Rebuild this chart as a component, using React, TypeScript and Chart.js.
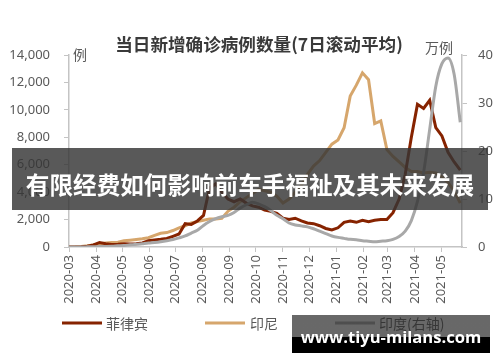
import React, { useEffect, useRef } from "react";
import { Chart, registerables } from "chart.js";

Chart.register(...registerables);

// ---- data ----
const sampleDates = [
  "2020-03-01", "2020-03-08", "2020-03-15", "2020-03-22", "2020-03-29",
  "2020-04-05", "2020-04-12", "2020-04-19", "2020-04-26", "2020-05-03",
  "2020-05-10", "2020-05-17", "2020-05-24", "2020-05-31", "2020-06-07",
  "2020-06-14", "2020-06-21", "2020-06-28", "2020-07-05", "2020-07-12",
  "2020-07-19", "2020-07-26", "2020-08-02", "2020-08-09", "2020-08-16",
  "2020-08-23", "2020-08-30", "2020-09-06", "2020-09-13", "2020-09-20",
  "2020-09-27", "2020-10-04", "2020-10-11", "2020-10-18", "2020-10-25",
  "2020-11-01", "2020-11-08", "2020-11-15", "2020-11-22", "2020-11-29",
  "2020-12-06", "2020-12-13", "2020-12-20", "2020-12-27", "2021-01-03",
  "2021-01-10", "2021-01-17", "2021-01-24", "2021-01-31", "2021-02-07",
  "2021-02-14", "2021-02-21", "2021-02-28", "2021-03-07", "2021-03-14",
  "2021-03-21", "2021-03-28", "2021-04-04", "2021-04-11", "2021-04-18",
  "2021-04-25", "2021-05-02", "2021-05-09", "2021-05-16", "2021-05-23",
];

// 菲律宾 (例)
const philippines = [
  0, 5, 20, 50, 150,
  330, 240, 180, 200, 230,
  220, 230, 300, 450, 520,
  560, 620, 780, 950, 1700,
  1650, 1900, 2300, 4300, 4600,
  4000, 3500, 3300, 3500, 3200,
  3000, 2900, 2700, 2600, 2450,
  2100, 2000, 2100, 1900, 1750,
  1700, 1550, 1350, 1250, 1400,
  1800, 1900, 1800, 1950, 1850,
  1950, 2000, 2000, 2500, 3500,
  5300, 8000, 10400, 10100, 10700,
  8700, 8100, 6900, 6200, 5600,
];

// 印尼 (例)
const indonesia = [
  0, 10, 40, 90, 150,
  230, 300, 330, 350, 450,
  500, 550, 600, 680, 850,
  1000, 1050, 1200, 1400, 1550,
  1750, 1850, 1950, 2050, 2050,
  2100, 2600, 2900, 3300, 3600,
  3900, 4200, 4100, 4000, 3700,
  3200, 3500, 4000, 4500, 5300,
  5900, 6300, 6900, 7500, 7800,
  8700, 11000, 11800, 12700, 12200,
  9000, 9200, 7100, 6600, 6200,
  5800, 5500, 5500, 5400, 5450,
  5400, 5100, 4700, 4100, 3200,
];

// 印度 (万例, 右轴)
const india = [
  0, 0.01, 0.01, 0.03, 0.06,
  0.08, 0.12, 0.17, 0.25, 0.32,
  0.45, 0.55, 0.7, 0.85, 0.95,
  1.1, 1.3, 1.55, 1.9, 2.3,
  2.9, 3.5, 4.5, 5.3, 5.9,
  6.3, 6.6, 7.2, 8.1, 8.8,
  9.3, 9.0, 8.4, 7.6, 6.6,
  5.9, 5.0, 4.6, 4.4, 4.2,
  3.8, 3.3, 2.8, 2.3, 2.0,
  1.8, 1.6, 1.5, 1.3, 1.2,
  1.1, 1.2, 1.3, 1.6, 2.2,
  3.3, 5.5, 9.5, 15.5, 24.5,
  33.5, 38.2, 39.4, 36, 26,
];

const monthLabels = [
  "2020-03", "2020-04", "2020-05", "2020-06", "2020-07", "2020-08", "2020-09",
  "2020-10", "2020-11", "2020-12", "2021-01", "2021-02", "2021-03", "2021-04",
  "2021-05",
];
const leftTicks = [0, 2000, 4000, 6000, 8000, 10000, 12000, 14000];
const rightTicks = [0, 10, 20, 30, 40];

const seriesNames = ["菲律宾", "印尼", "印度(右轴)"];
const seriesColors = ["#862300", "#d6a66c", "#a8a8a8"];
const titleText = "当日新增确诊病例数量(7日滚动平均)";
const leftUnit = "例";
const rightUnit = "万例";
const bannerText = "有限经费如何影响前车手福祉及其未来发展";
const watermarkText = "www.tiyu-milans.com";

const ORIGIN = Date.UTC(2020, 2, 1);
const dayOf = (s: string) => (Date.parse(s) - ORIGIN) / 86400000;
const X_MAX = dayOf("2021-05-25");

const AXIS_COLOR = "#c4c4c4";
const TEXT_COLOR = "#595959";
const TICK_FONT = { family: '"Noto Sans", sans-serif', size: 13 };

const decorPlugin = {
  id: "decor",
  afterDraw(chart: any) {
    const ctx = chart.ctx;
    const a = chart.chartArea;
    ctx.save();
    ctx.fillStyle = "#3a3a3a";
    ctx.font = 'bold 17.6px "Noto Sans CJK SC"';
    ctx.textAlign = "center";
    ctx.textBaseline = "middle";
    ctx.fillText(titleText, 259, 44);

    ctx.fillStyle = TEXT_COLOR;
    ctx.font = '14px "Noto Sans CJK SC"';
    ctx.textAlign = "left";
    ctx.fillText(leftUnit, a.left + 4, a.top);
    ctx.textAlign = "right";
    ctx.fillText(rightUnit, a.right - 9, a.top - 7);

    const legendPos = [
      [62, 106],
      [205, 250],
      [335, 379],
    ];
    chart.data.datasets.forEach((ds: any, i: number) => {
      const [lx, tx] = legendPos[i];
      ctx.strokeStyle = ds.borderColor;
      ctx.lineWidth = 3;
      ctx.beginPath();
      ctx.moveTo(lx, 323);
      ctx.lineTo(lx + 40, 323);
      ctx.stroke();
      ctx.fillStyle = TEXT_COLOR;
      ctx.textAlign = "left";
      ctx.fillText(ds.label, tx, 324);
    });
    ctx.restore();
  },
};

function ChartCanvas() {
  const ref = useRef<HTMLCanvasElement | null>(null);
  useEffect(() => {
    if (!ref.current) return;
    const xs = sampleDates.map(dayOf);
    const mk = (vals: number[]) => vals.map((v, i) => ({ x: xs[i], y: v }));
    const chart = new Chart(ref.current, {
      type: "line",
      data: {
        datasets: [
          {
            label: seriesNames[0],
            data: mk(philippines),
            borderColor: seriesColors[0],
            borderWidth: 3,
            pointRadius: 0,
            tension: 0,
            yAxisID: "y",
            order: 1,
          },
          {
            label: seriesNames[1],
            data: mk(indonesia),
            borderColor: seriesColors[1],
            borderWidth: 3,
            pointRadius: 0,
            tension: 0,
            yAxisID: "y",
            order: 2,
          },
          {
            label: seriesNames[2],
            data: mk(india),
            borderColor: seriesColors[2],
            borderWidth: 3,
            pointRadius: 0,
            cubicInterpolationMode: "monotone",
            yAxisID: "y1",
            order: 0,
          },
        ],
      },
      options: {
        animation: false,
        responsive: false,
        maintainAspectRatio: false,
        layout: { padding: { top: 55, bottom: 45, left: 0, right: 0 } },
        plugins: {
          legend: { display: false },
          title: { display: false },
          tooltip: { enabled: false },
        },
        scales: {
          x: {
            type: "linear",
            min: 0,
            max: X_MAX,
            afterBuildTicks: (s: any) => {
              s.ticks = monthLabels.map((m) => ({ value: dayOf(m + "-01") }));
            },
            afterFit: (s: any) => {
              s.height = 70;
            },
            ticks: {
              autoSkip: false,
              minRotation: 90,
              maxRotation: 90,
              padding: 3,
              color: TEXT_COLOR,
              font: TICK_FONT,
              callback: (_v: any, i: number) => monthLabels[i],
            },
            grid: { drawOnChartArea: false, tickLength: 5, color: AXIS_COLOR },
            border: { color: AXIS_COLOR, width: 1.5 },
          },
          y: {
            position: "left",
            min: 0,
            max: 14000,
            afterBuildTicks: (s: any) => {
              s.ticks = leftTicks.map((v) => ({ value: v }));
            },
            afterFit: (s: any) => {
              s.width = 69;
            },
            ticks: {
              padding: 14,
              color: TEXT_COLOR,
              font: TICK_FONT,
              callback: (v: any) => Number(v).toLocaleString("en-US"),
            },
            grid: { drawOnChartArea: false, tickLength: 5, color: AXIS_COLOR },
            border: { color: AXIS_COLOR, width: 1.5 },
          },
          y1: {
            position: "right",
            min: 0,
            max: 40,
            afterBuildTicks: (s: any) => {
              s.ticks = rightTicks.map((v) => ({ value: v }));
            },
            afterFit: (s: any) => {
              s.width = 38;
            },
            ticks: {
              padding: 11,
              color: TEXT_COLOR,
              font: TICK_FONT,
              callback: (v: any) => String(v),
            },
            grid: { drawOnChartArea: false, tickLength: 5, color: AXIS_COLOR },
            border: { color: AXIS_COLOR, width: 1.5 },
          },
        },
      } as any,
      plugins: [decorPlugin],
    });
    return () => chart.destroy();
  }, []);
  return (
    <canvas
      ref={ref}
      width={500}
      height={362}
      style={{ display: "block", width: 500, height: 362 }}
    />
  );
}

export default function App() {
  return (
    <div
      style={{
        position: "absolute",
        left: 0,
        top: 0,
        width: 500,
        height: 362,
        background: "#fff",
        overflow: "hidden",
      }}
    >
      <ChartCanvas />
      <div
        style={{
          position: "absolute",
          left: 12,
          top: 148,
          width: 476,
          height: 62,
          background: "rgba(52,52,52,0.82)",
        }}
      />
      <div
        style={{
          position: "absolute",
          left: 0,
          top: 172,
          width: 500,
          textAlign: "center",
          color: "#fff",
          fontFamily: '"Noto Sans CJK SC", sans-serif',
          fontWeight: 700,
          fontSize: 23.6,
          lineHeight: "24px",
          whiteSpace: "nowrap",
        }}
      >
        {bannerText}
      </div>
      <div
        style={{
          position: "absolute",
          left: 292,
          top: 315,
          width: 198,
          height: 38,
          background:
            "linear-gradient(to bottom, rgba(40,40,40,0.7) 0%, rgba(40,40,40,0.7) 58%, #000 58%, #000 100%)",
        }}
      />
      <div
        style={{
          position: "absolute",
          left: 292,
          top: 325,
          width: 198,
          textAlign: "center",
          color: "#fff",
          fontFamily: '"Open Sans", "Noto Sans", sans-serif',
          fontWeight: 700,
          fontSize: 16.6,
          lineHeight: "24px",
          whiteSpace: "nowrap",
        }}
      >
        {watermarkText}
      </div>
    </div>
  );
}
